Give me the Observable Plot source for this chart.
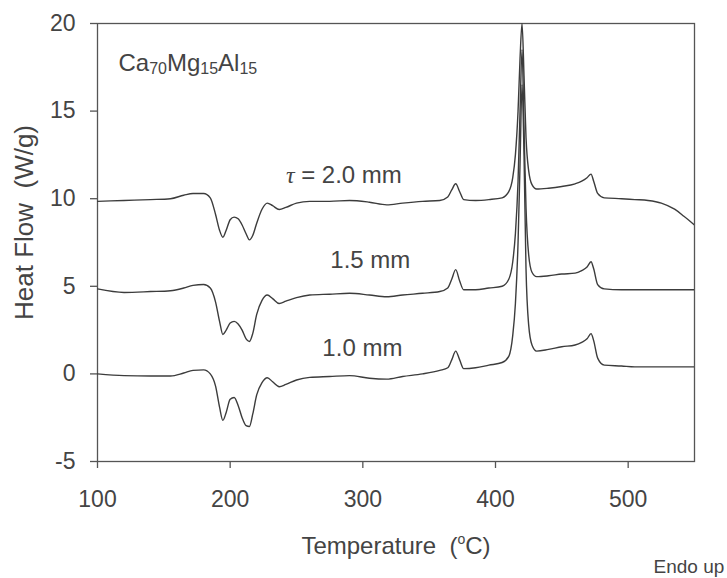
<!DOCTYPE html>
<html><head><meta charset="utf-8">
<script src="https://cdn.jsdelivr.net/npm/d3@7"></script>
<script src="https://cdn.jsdelivr.net/npm/@observablehq/plot@0.6"></script>
<style>
body{margin:0;background:#fff;}
#chart svg{font-family:"Liberation Sans",Arial,sans-serif;}
</style></head><body><div id="chart"></div>
<script>
// Temperature grid (°C), shared by the three DSC traces
const temperature = [100,120,140,155,165,172,180,185,189,192,194.5,197,200,203,206,209,212,214.5,217,220,224,228,232,237,242,250,260,275,290,305,318,330,345,358,364,367,370,373,376,385,395,405,410,413,415,417,418.5,420,421.5,423,425,427.5,431,440,450,460,465,469,472,474,477,482,495,505,515,525,535,542,550];
// Heat flow (W/g), tau = 2.0 mm
const flow20 = [9.85,9.9,9.95,10.0,10.2,10.3,10.3,10.05,9.1,8.2,7.8,8.2,8.8,8.95,8.85,8.5,8.0,7.65,7.9,8.6,9.4,9.75,9.6,9.38,9.5,9.75,9.85,9.85,9.9,9.8,9.65,9.75,9.85,9.9,10.1,10.5,10.85,10.4,9.95,9.9,9.95,10.05,10.4,11.2,12.5,15,18,20,17,13.5,11.6,10.8,10.55,10.6,10.7,10.85,11.0,11.2,11.4,11.0,10.3,10.05,10.0,9.95,9.9,9.75,9.4,9.0,8.5];
// Heat flow (W/g), tau = 1.5 mm
const flow15 = [4.85,4.65,4.7,4.75,4.9,5.05,5.1,4.9,4.1,3.0,2.25,2.5,2.9,3.0,2.85,2.5,2.0,1.85,2.3,3.4,4.2,4.5,4.3,4.02,4.15,4.35,4.5,4.55,4.6,4.5,4.4,4.5,4.6,4.7,4.9,5.4,5.95,5.3,4.8,4.8,4.9,5.0,5.4,6.4,8.0,11.0,15,18.5,14,9.5,6.8,5.8,5.55,5.6,5.7,5.75,5.9,6.1,6.4,6.0,5.1,4.85,4.8,4.8,4.8,4.8,4.8,4.8,4.8];
// Heat flow (W/g), tau = 1.0 mm
const flow10 = [0.0,-0.1,-0.12,-0.12,0.05,0.2,0.23,0.0,-0.7,-1.9,-2.65,-2.2,-1.45,-1.35,-1.8,-2.5,-2.95,-3.0,-2.3,-1.2,-0.5,-0.22,-0.45,-0.73,-0.6,-0.35,-0.2,-0.15,-0.1,-0.25,-0.3,-0.15,0.0,0.2,0.35,0.8,1.3,0.8,0.3,0.35,0.5,0.65,1.0,2.2,4.0,7.5,12,16.5,12.5,6.0,2.8,1.65,1.3,1.4,1.55,1.65,1.8,2.0,2.3,1.9,0.9,0.5,0.45,0.4,0.4,0.4,0.4,0.4,0.4];

const seriesNames = ["2.0 mm", "1.5 mm", "1.0 mm"];
const xTicks = [100, 200, 300, 400, 500];
const yTicks = [-5, 0, 5, 10, 15, 20];
const curveLabels = ["τ = 2.0 mm", "1.5 mm", "1.0 mm"];
const curveLabelX = [242, 275.5, 269.5];
const curveLabelY = [10.87, 6.02, 1.05];
const alloyLabel = "Ca70Mg15Al15";
const alloyX = 115.8, alloyY = 17.3;
const xTitle = "Temperature  (oC)";
const yTitle = "Heat Flow  (W/g)";
const note = "Endo up";

const rows = [];
[flow20, flow15, flow10].forEach((arr, i) =>
  arr.forEach((v, j) => rows.push({series: seriesNames[i], T: temperature[j], v})));

const ink = "#444";
const font = "'Liberation Sans', Arial, sans-serif";

const plot = Plot.plot({
  width: 727, height: 578,
  marginLeft: 97, marginRight: 33, marginTop: 23, marginBottom: 117,
  style: {fontFamily: font, color: ink, background: "#fff", overflow: "visible"},
  x: {domain: [100, 550]},
  y: {domain: [-5, 20]},
  marks: [
    Plot.frame({stroke: "#555", strokeWidth: 1.3}),
    Plot.axisX({ticks: xTicks, tickSize: 7, tickPadding: 22, fontSize: 23, label: null, stroke: "#555", strokeWidth: 1.3, tickFormat: d => String(d)}),
    Plot.axisY({ticks: yTicks, tickSize: 7, tickPadding: 15, fontSize: 23, label: null, stroke: "#555", strokeWidth: 1.3, tickFormat: d => String(d)}),
    Plot.line(rows, {x: "T", y: "v", z: "series", stroke: "#3c3c3c", strokeWidth: 1.4, curve: "monotone-x", clip: true}),
    Plot.text(curveLabels, {x: (d, i) => curveLabelX[i], y: (d, i) => curveLabelY[i], text: d => d,
      textAnchor: "start", lineAnchor: "bottom", fontSize: 24, fill: ink}),
    Plot.text([alloyLabel], {x: () => alloyX, y: () => alloyY, text: d => d,
      textAnchor: "start", lineAnchor: "bottom", fontSize: 24, fill: ink}),
    Plot.text([xTitle], {frameAnchor: "bottom", text: d => d, lineAnchor: "bottom", dy: 92, fontSize: 24, fill: ink}),
    Plot.text([yTitle], {frameAnchor: "left", text: d => d, textAnchor: "middle", lineAnchor: "bottom", rotate: -90, dx: -65, dy: -20, fontSize: 26, fill: ink}),
    Plot.text([note], {frameAnchor: "bottom-right", text: d => d, textAnchor: "start", lineAnchor: "bottom", dx: -41, dy: 111, fontSize: 19, fill: ink})
  ]
});

document.getElementById("chart").appendChild(plot);

// rich text: subscripts and superscript
d3.select(plot).selectAll("text").each(function () {
  const t = d3.select(this);
  const s = this.textContent;
  if (s === alloyLabel) {
    t.text(null);
    const parts = [["Ca", 0], ["70", 1], ["Mg", 0], ["15", 1], ["Al", 0], ["15", 1]];
    let shifted = false;
    parts.forEach(([p, sub]) => {
      const ts = t.append("tspan").text(p);
      if (sub) { ts.attr("font-size", 16).attr("dy", shifted ? 0 : 3); shifted = true; }
      else { if (shifted) ts.attr("dy", -3); shifted = false; }
    });
  } else if (s === xTitle) {
    t.text(null);
    t.append("tspan").text("Temperature  (");
    t.append("tspan").text("o").attr("font-size", 14).attr("dy", -10);
    t.append("tspan").text("C)").attr("dy", 10);
  } else if (s === curveLabels[0]) {
    t.text(null);
    t.append("tspan").text("τ").attr("font-style", "italic").attr("font-family", "'Liberation Serif', serif");
    t.append("tspan").text(" = 2.0 mm");
  }
});
</script></body></html>
